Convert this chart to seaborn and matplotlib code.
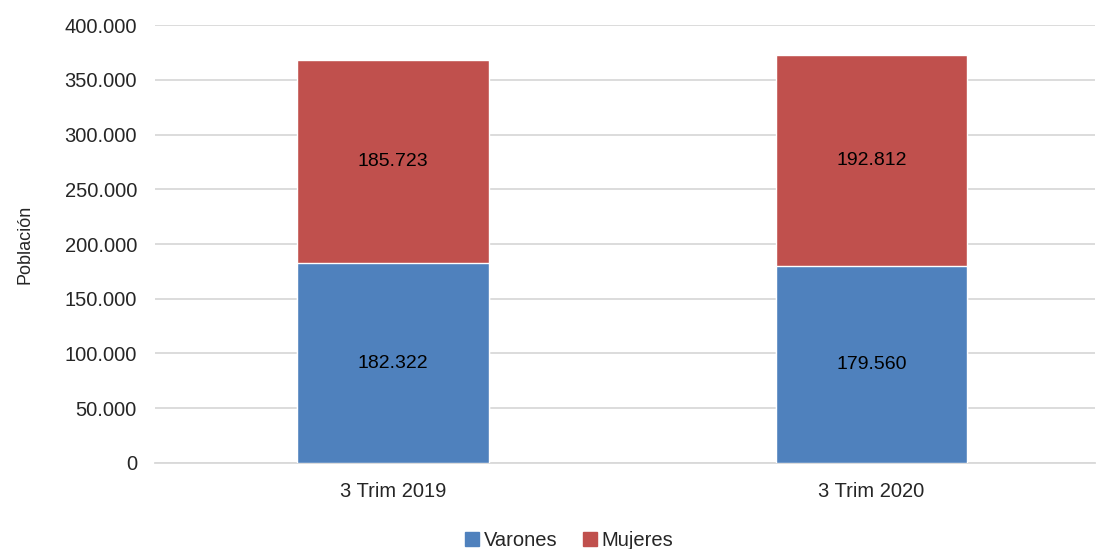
import seaborn as sns
import pandas as pd
from matplotlib import pyplot as plt
from matplotlib.ticker import FuncFormatter, MultipleLocator
from matplotlib.patches import Patch

categories = ["3 Trim 2019", "3 Trim 2020"]
varones = [182322, 179560]
mujeres = [185723, 192812]

sns.set_style("white")
plt.rcParams['font.family'] = ['Liberation Sans', 'DejaVu Sans']

df = pd.DataFrame({"periodo": categories, "Varones": varones, "Mujeres": mujeres})
df["total"] = df["Varones"] + df["Mujeres"]

blue = "#4F81BD"
red = "#C0504D"

fig = plt.figure(figsize=(10.99, 5.49), dpi=100)
ax = fig.add_axes([0.141, 0.157, 0.855, 0.797])

# stacked: total in red, then varones drawn over it in blue
sns.barplot(x="periodo", y="total", data=df, color=red, width=0.4, ax=ax,
            saturation=1, errorbar=None, zorder=2)
sns.barplot(x="periodo", y="Varones", data=df, color=blue, width=0.4, ax=ax,
            saturation=1, errorbar=None, zorder=3)

for i, row in df.iterrows():
    ax.text(i, row["Varones"] / 2, f"{row['Varones']:,}".replace(",", "."),
            ha="center", va="center", fontsize=14, color="black", zorder=4)
    ax.text(i, row["Varones"] + row["Mujeres"] / 2, f"{row['Mujeres']:,}".replace(",", "."),
            ha="center", va="center", fontsize=14, color="black", zorder=4)

ax.set_ylim(0, 400000)
ax.yaxis.set_major_locator(MultipleLocator(50000))
ax.yaxis.set_major_formatter(FuncFormatter(lambda v, p: "0" if v == 0 else f"{int(v):,}".replace(",", ".")))
ax.grid(True, axis='y', color="#d9d9d9", linewidth=1.3, zorder=0)
ax.set_axisbelow(True)
for s in ["top", "right", "left"]:
    ax.spines[s].set_visible(False)
ax.spines["bottom"].set_color("#d9d9d9")
ax.spines["bottom"].set_linewidth(1.3)
ax.tick_params(axis='both', length=0, labelsize=14.5, pad=13)
ax.tick_params(axis='x', pad=14)
ax.set_xlabel("")
ax.set_ylabel("Población", fontsize=13, labelpad=22)
ax.set_xlim(-0.497, 1.466)

handles = [Patch(color=blue, label="Varones"), Patch(color=red, label="Mujeres")]
fig.legend(handles=handles, loc="lower center", ncol=2, frameon=False, fontsize=14.5,
           bbox_to_anchor=(0.518, -0.035), handlelength=0.7, handleheight=0.7,
           handletextpad=0.2, columnspacing=1.3)

fig.savefig("out.png", dpi=100)
